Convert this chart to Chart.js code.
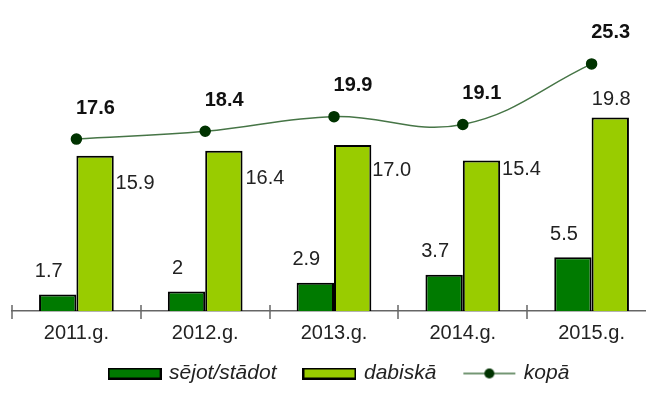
<!DOCTYPE html>
<html>
<head>
<meta charset="utf-8">
<script src="https://cdn.jsdelivr.net/npm/chart.js@4"></script>
<style>
  html, body { margin: 0; padding: 0; background: #fff; overflow: hidden; }
  #wrap { width: 668px; height: 405px; }
</style>
</head>
<body>
<div id="wrap"><canvas id="myChart"></canvas></div>
<script>
// data
const years = ['2011.g.', '2012.g.', '2013.g.', '2014.g.', '2015.g.'];
const sown = [1.7, 2, 2.9, 3.7, 5.5];
const natural = [15.9, 16.4, 17.0, 15.4, 19.8];
const total = [17.6, 18.4, 19.9, 19.1, 25.3];
const sownLabels = ['1.7', '2', '2.9', '3.7', '5.5'];
const naturalLabels = ['15.9', '16.4', '17.0', '15.4', '19.8'];
const totalLabels = ['17.6', '18.4', '19.9', '19.1', '25.3'];

(()=>{
    const ctx = document.getElementById('myChart');
    Chart.defaults.font.family = '"Liberation Sans", Arial, sans-serif';
    Chart.defaults.font.size = 20;
    Chart.defaults.color = '#222';

    const DARK = '#007a00';
    const LIGHT = '#99cc00';
    const LINE = '#467546';
    const DOT = '#003300';
    const AXIS = '#666';

    // legend symbols drawn on small canvases
    const boxIcon = (fill) => {
        const c = document.createElement('canvas');
        c.width = 54; c.height = 12;
        const g = c.getContext('2d');
        g.fillStyle = '#000';
        g.fillRect(0, 0, 54, 12);
        g.fillStyle = fill;
        g.fillRect(2, 2, 50, 8);
        return c;
    };
    const lineIcon = () => {
        const c = document.createElement('canvas');
        c.width = 54; c.height = 12;
        const g = c.getContext('2d');
        g.strokeStyle = LINE;
        g.lineWidth = 1.5;
        g.beginPath(); g.moveTo(1, 6); g.lineTo(53, 6); g.stroke();
        g.fillStyle = DOT;
        g.beginPath(); g.arc(27, 6, 5, 0, Math.PI * 2); g.fill();
        return c;
    };
    const icons = [boxIcon(DARK), boxIcon(LIGHT), lineIcon()];

    // value labels next to each mark
    const valueLabels = {
        id: 'valueLabels',
        afterDatasetsDraw(chart) {
            const g = chart.ctx;
            chart.data.datasets.forEach((ds, i) => {
                const meta = chart.getDatasetMeta(i);
                const lab = ds.valueLabels;
                g.save();
                g.font = (lab.bold ? 'bold ' : '') + '20px "Liberation Sans", Arial, sans-serif';
                g.fillStyle = lab.bold ? '#111' : '#222';
                g.textAlign = 'center';
                g.textBaseline = 'middle';
                meta.data.forEach((el, j) => {
                    const off = lab.offsets[j];
                    g.fillText(lab.text[j], el.x + off[0], el.y + off[1]);
                });
                g.restore();
            });
        }
    };

    // small tick marks that cross the category axis
    const crossTicks = {
        id: 'crossTicks',
        afterDraw(chart) {
            const x = chart.scales.x;
            const g = chart.ctx;
            g.save();
            g.strokeStyle = AXIS;
            g.lineWidth = 1.5;
            for (let i = 0; i <= chart.data.labels.length; i++) {
                const px = Math.round(x.getPixelForValue(i - 0.5));
                g.beginPath();
                g.moveTo(px, x.top - 6);
                g.lineTo(px, x.top + 8);
                g.stroke();
            }
            g.restore();
        }
    };

    // nudge the legend box up and a bit to the right
    const legendShift = {
        id: 'legendShift',
        afterLayout(chart) {
            const lg = chart.legend;
            lg.top -= 17; lg.bottom -= 17;
            lg.left += 6; lg.right += 6;
        }
    };

    new Chart(ctx, {
        type: 'bar',
        data: {
            labels: years,
            datasets: [
                {
                    label: 'sējot/stādot',
                    data: sown,
                    backgroundColor: DARK,
                    borderColor: '#000',
                    borderWidth: 2,
                    borderSkipped: 'bottom',
                    categoryPercentage: 0.58,
                    barPercentage: 1,
                    order: 2,
                    valueLabels: { text: sownLabels, offsets: Array(5).fill([-9, -23]) }
                },
                {
                    label: 'dabiskā',
                    data: natural,
                    backgroundColor: LIGHT,
                    borderColor: '#000',
                    borderWidth: 2,
                    borderSkipped: 'bottom',
                    categoryPercentage: 0.58,
                    barPercentage: 1,
                    order: 2,
                    valueLabels: { text: naturalLabels, offsets: [[40, 28], [41, 28], [39, 26], [40, 9], [1, -18]] }
                },
                {
                    type: 'line',
                    label: 'kopā',
                    data: total,
                    borderColor: LINE,
                    borderWidth: 1.5,
                    backgroundColor: DOT,
                    pointBackgroundColor: DOT,
                    pointBorderColor: DOT,
                    pointRadius: 5,
                    tension: 0.4,
                    order: 1,
                    valueLabels: { text: totalLabels, bold: true, offsets: Array(5).fill([19, -31]) }
                }
            ]
        },
        options: {
            responsive: true,
            maintainAspectRatio: false,
            animation: false,
            layout: { padding: { left: 12, right: 12, top: 18, bottom: -6 } },
            plugins: {
                tooltip: { enabled: false },
                legend: {
                    position: 'bottom',
                    labels: {
                        usePointStyle: true,
                        pointStyleWidth: 48,
                        boxHeight: 12,
                        padding: 29,
                        font: { style: 'italic', size: 21 },
                        generateLabels: (chart) => chart.data.datasets.map((ds, i) => ({
                            text: ds.label,
                            pointStyle: icons[i],
                            datasetIndex: i,
                            fontColor: '#222',
                            lineWidth: 0,
                            strokeStyle: 'rgba(0,0,0,0)',
                            fillStyle: 'rgba(0,0,0,0)'
                        }))
                    }
                }
            },
            scales: {
                y: {
                    display: false,
                    min: 0,
                    max: 30
                },
                x: {
                    border: { color: AXIS, width: 1.5 },
                    grid: { display: false },
                    ticks: { padding: 2, font: { size: 20 } },
                    afterFit: (scale) => { scale.height = 40; }
                }
            }
        },
        plugins: [valueLabels, crossTicks, legendShift]
    });
})()
</script>
</body>
</html>
